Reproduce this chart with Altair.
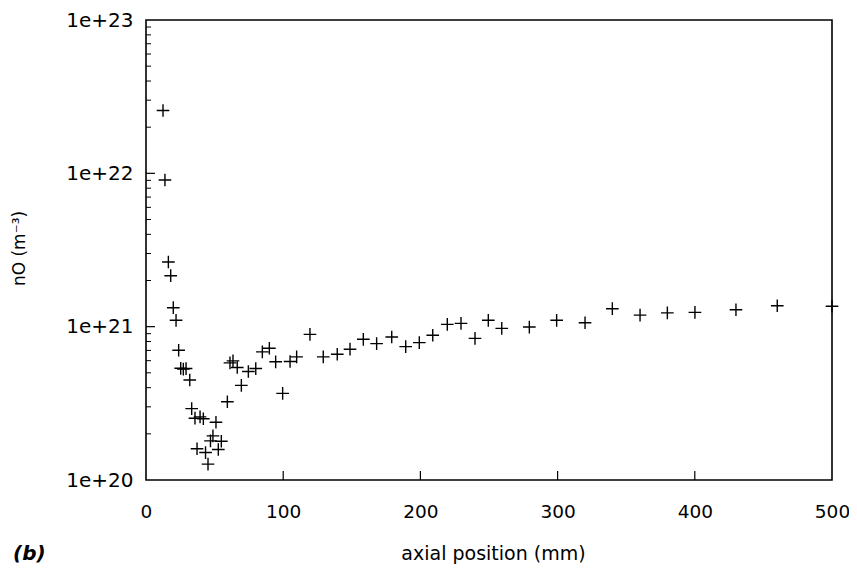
import altair as alt
import pandas as pd

# axial position (mm)
x_mm = [12.4, 13.8, 16.3, 18.0, 19.9, 21.9, 23.8, 25.3, 27.2, 29.2, 31.9, 33.3,
        35.7, 39.4, 41.8, 51.0, 48.8, 47.0, 54.9, 37.2, 52.7, 43.4, 45.2, 59.3,
        61.2, 63.4, 66.5, 69.5, 74.6, 80.0, 84.8, 89.9, 94.5, 99.6, 105.0, 109.8,
        119.5, 129.2, 139.4, 148.7, 158.4, 168.1, 179.1, 189.3, 199.2, 209.0,
        219.6, 229.6, 239.8, 249.5, 259.3, 279.4, 299.3, 320.0, 339.9, 360.1,
        380.0, 400.1, 430.0, 460.1, 500.0]
# nO (m^-3)
n_O = [2.57e22, 9.05e21, 2.64e21, 2.15e21, 1.33e21, 1.10e21, 7.02e20, 5.35e20,
       5.29e20, 5.33e20, 4.49e20, 2.92e20, 2.53e20, 2.58e20, 2.51e20, 2.38e20,
       1.94e20, 1.80e20, 1.79e20, 1.60e20, 1.58e20, 1.51e20, 1.27e20, 3.24e20,
       5.81e20, 5.98e20, 5.42e20, 4.14e20, 5.10e20, 5.33e20, 6.85e20, 7.23e20,
       5.90e20, 3.67e20, 5.93e20, 6.35e20, 8.91e20, 6.35e20, 6.61e20, 7.13e20,
       8.27e20, 7.75e20, 8.56e20, 7.41e20, 7.87e20, 8.79e20, 1.035e21, 1.05e21,
       8.39e20, 1.10e21, 9.75e20, 9.94e20, 1.10e21, 1.06e21, 1.31e21, 1.19e21,
       1.23e21, 1.24e21, 1.29e21, 1.37e21, 1.36e21]

x_ticks = [0, 100, 200, 300, 400, 500]
x_inner_ticks = [100, 200, 300, 400]
y_major = [1e20, 1e21, 1e22, 1e23]
y_minor = [m * 10.0 ** e for e in (20, 21, 22) for m in range(2, 10)]

W, H = 686, 460
FONT = "DejaVu Sans"

xscale = alt.Scale(domain=[0, 500], nice=False, zero=False)
yscale = alt.Scale(type="log", domain=[1e20, 1e23], nice=False)

xaxis = alt.Axis(
    values=x_ticks, ticks=False, domain=False, grid=False, labelFlush=False,
    labelFontSize=18.5, labelFont=FONT, labelColor="black", labelPadding=22,
    title="axial position (mm)", titleFont=FONT, titleFontSize=19,
    titleFontWeight="normal", titleColor="black",
    titleX=347, titleY=73, titleBaseline="middle", titleAlign="center")
yaxis = alt.Axis(
    values=y_major, format=".0e", ticks=False, domain=False, grid=False,
    labelFlush=False,
    labelFontSize=20, labelFont=FONT, labelColor="black", labelPadding=13,
    title="nO (m⁻³)", titleFont=FONT, titleFontSize=17,
    titleFontWeight="normal", titleColor="black",
    titleX=-127, titleY=228, titleBaseline="middle", titleAlign="center")

df = pd.DataFrame({"x": x_mm, "n": n_O})

cross = "M-1,0L1,0M0,-1L0,1"

points = alt.Chart(df).mark_point(
    shape=cross, size=160, filled=False, stroke="black", strokeWidth=1.4, opacity=1
).encode(
    x=alt.X("x:Q", scale=xscale, axis=xaxis, title="axial position (mm)"),
    y=alt.Y("n:Q", scale=yscale, axis=yaxis, title="nO (m⁻³)"),
)

major = alt.Chart(pd.DataFrame({"n": y_major[1:-1]})).mark_rule(
    color="black", strokeWidth=1.2
).encode(y=alt.Y("n:Q", scale=yscale, axis=yaxis, title="nO (m⁻³)"),
         x=alt.value(0), x2=alt.value(9))

minor = alt.Chart(pd.DataFrame({"n": y_minor})).mark_rule(
    color="black", strokeWidth=1.0
).encode(y=alt.Y("n:Q", scale=yscale, axis=yaxis, title="nO (m⁻³)"),
         x=alt.value(0), x2=alt.value(5))

bottom = alt.Chart(pd.DataFrame({"x": x_inner_ticks})).mark_rule(
    color="black", strokeWidth=1.2
).encode(x=alt.X("x:Q", scale=xscale, axis=xaxis, title="axial position (mm)"),
         y=alt.value(H), y2=alt.value(H - 9))

panel = alt.Chart(pd.DataFrame({"lab": ["(b)"]})).mark_text(
    font=FONT, fontSize=20, fontWeight="bold", fontStyle="italic",
    align="left", baseline="top", color="black"
).encode(text="lab:N", x=alt.value(-133), y=alt.value(524))

chart = alt.layer(points, major, minor, bottom, panel).properties(
    width=W, height=H,
    autosize=alt.AutoSizeParams(type="none"),
    padding={"left": 138, "top": 12, "right": 17, "bottom": 88},
    background="white",
).configure_view(stroke="black", strokeWidth=1.6)

chart.save("out.html", embed_options={"renderer": "svg", "actions": False})
